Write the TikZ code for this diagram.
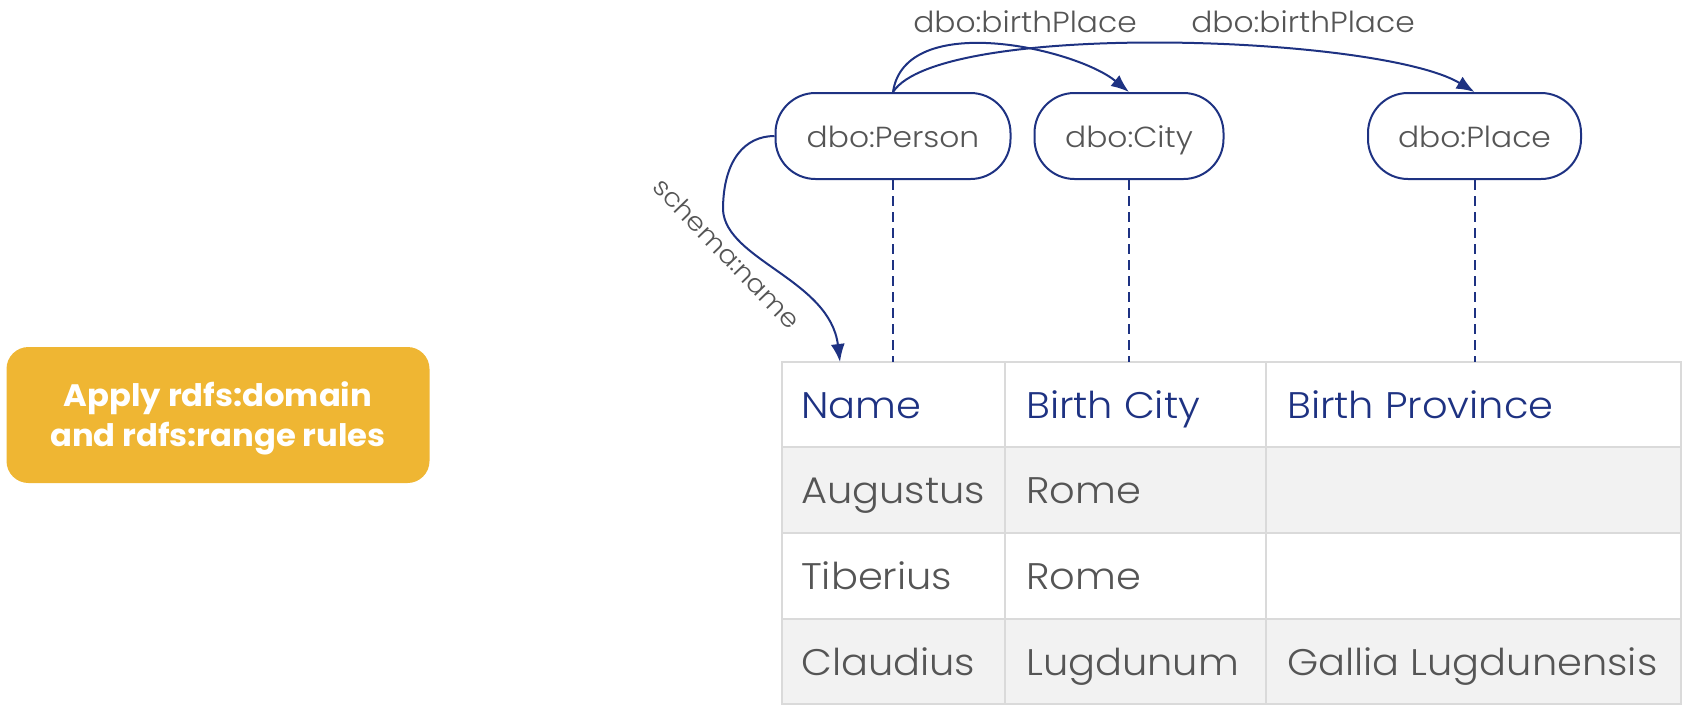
\documentclass[tikz,border=0pt]{standalone}
\usepackage{fontspec}
\setmainfont{Poppins Light}
\newfontfamily\lightf{Poppins Light}[FakeStretch=1.08]
\newfontfamily\boldf{Poppins Bold}[FakeStretch=1.04]
\usetikzlibrary{arrows.meta}
\definecolor{navy}{HTML}{1E3282}
\definecolor{txtgray}{HTML}{555555}
\definecolor{gold}{HTML}{EFB633}
\definecolor{gridgray}{HTML}{DADADA}
\definecolor{rowgray}{HTML}{F2F2F2}
\begin{document}
\begin{tikzpicture}[x=1pt,y=-1pt,
  classbox/.style={draw=navy, line width=2pt, rounded corners=40pt, minimum height=86pt,
    text=txtgray, font=\lightf\fontsize{29}{34}\selectfont, inner sep=0pt,
    text height=25pt, text depth=3pt},
  rel/.style={draw=navy, line width=2pt, -{Latex[length=18pt,width=14pt]}},
  lbl/.style={text=txtgray, font=\lightf\fontsize{29}{34}\selectfont, inner sep=0pt},
  dashline/.style={draw=navy, line width=2pt, dash pattern=on 10pt off 6pt},
  gridline/.style={draw=gridgray, line width=2.5pt},
  headcell/.style={anchor=base west, text=navy, font=\lightf\fontsize{37}{42}\selectfont, inner sep=0pt},
  bodycell/.style={anchor=base west, text=txtgray, font=\lightf\fontsize{37}{42}\selectfont, inner sep=0pt},
  rulebg/.style={fill=gold, rounded corners=22pt},
  ruletext/.style={text=white, align=center, font=\boldf\fontsize{31}{40}\selectfont, inner sep=0pt}
]
\useasboundingbox (0,0) rectangle (1686,710);

% rule box
\fill[rulebg] (6.5,347) rectangle (429.5,483);
\node[ruletext] (rule) at (218,418.5) {Apply rdfs:domain\\and rdfs:range rules};

% class nodes
\node[classbox, minimum width=235pt] (person) at (893,136) {dbo:Person};
\node[classbox, minimum width=189pt] (city) at (1129,136) {dbo:City};
\node[classbox, minimum width=213pt] (place) at (1474.5,136) {dbo:Place};

% table
\fill[rowgray] (782,447) rectangle (1681,533);
\fill[rowgray] (782,619) rectangle (1681,704);
\draw[gridline] (782,362) rectangle (1681,704);
\draw[gridline] (782,447) -- (1681,447);
\draw[gridline] (782,533) -- (1681,533);
\draw[gridline] (782,619) -- (1681,619);
\draw[gridline] (1005,362) -- (1005,704);
\draw[gridline] (1266,362) -- (1266,704);

\coordinate (ttop) at (782,362);
\coordinate (nametip) at (840,362);

\node[headcell] (hname) at (801,418) {Name};
\node[headcell] (hcity) at (1026,418) {Birth City};
\node[headcell] (hprov) at (1287,418) {Birth Province};
\node[bodycell] (n1) at (801,503.5) {Augustus};
\node[bodycell] (c1) at (1026,503.5) {Rome};
\node[bodycell] (n2) at (801,589) {Tiberius};
\node[bodycell] (c2) at (1026,589) {Rome};
\node[bodycell] (n3) at (801,675) {Claudius};
\node[bodycell] (c3) at (1026,675) {Lugdunum};
\node[bodycell] (p3) at (1287,675) {Gallia Lugdunensis};

% dashed links
\draw[dashline] (person.south) -- (person.south |- ttop);
\draw[dashline] (city.south) -- (city.south |- ttop);
\draw[dashline] (place.south) -- (place.south |- ttop);

% relations
\draw[rel] (person.north) .. controls (905,10) and (1075,48) .. (city.north);
\draw[rel] (person.north) .. controls (940,20) and (1380,35) .. (place.north);
\draw[rel] (person.west) .. controls (745,136) and (723,160) .. (723,210)
  .. controls (726,260) and (830,280) .. (nametip);

\node[lbl] (lcity) at (1025,21.5) {dbo:birthPlace};
\node[lbl] (lplace) at (1303,21.5) {dbo:birthPlace};
\node[lbl, font=\lightf\fontsize{25.5}{30}\selectfont, rotate=-46] (lname) at (727,253) {schema:name};
\end{tikzpicture}
\end{document}
